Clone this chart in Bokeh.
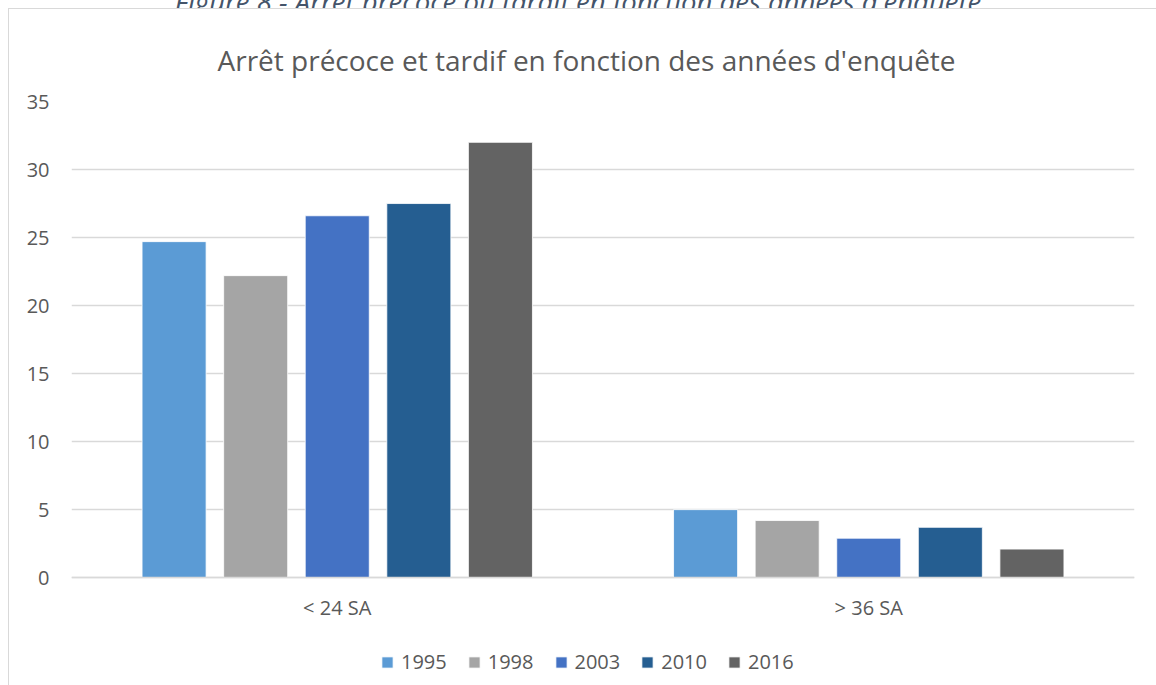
from bokeh.plotting import figure
from bokeh.models import ColumnDataSource, Legend, LegendItem, FixedTicker, Div
from bokeh.layouts import column
from bokeh.transform import dodge
from bokeh.embed import file_html
from bokeh.resources import INLINE

caption = "Figure 8 - Arrêt précoce ou tardif en fonction des années d'enquête"
title = "Arrêt précoce et tardif en fonction des années d'enquête"
categories = ["< 24 SA", "> 36 SA"]
years = ["1995", "1998", "2003", "2010", "2016"]
v1995 = [24.7, 5.0]
v1998 = [22.2, 4.2]
v2003 = [26.6, 2.9]
v2010 = [27.5, 3.7]
v2016 = [32.0, 2.1]
colors = ["#5B9BD5", "#A5A5A5", "#4472C4", "#255E91", "#636363"]
yticks = [0, 5, 10, 15, 20, 25, 30, 35]

src = ColumnDataSource(dict(cat=categories, y1995=v1995, y1998=v1998,
                            y2003=v2003, y2010=v2010, y2016=v2016))

FONT = "Open Sans"
TXT = "#595959"
GRID = "#D9D9D9"

cap = Div(text=(f"<div style=\"margin-top:-31px; width:1156px; text-align:center; "
                f"font-family:'Open Sans'; font-style:italic; font-size:27.5px; line-height:normal; "
                f"color:#44546A; white-space:nowrap;\">{caption}</div>"),
          width=1156, height=8, margin=0, styles={"overflow": "hidden"})

# frame extended below 0 so that the legend can sit inside it
p = figure(frame_width=1062, frame_height=580, x_range=categories, y_range=(-8, 35),
           output_backend="svg", toolbar_location=None,
           min_border_left=62, min_border_right=25, min_border_top=92, min_border_bottom=0,
           margin=(0, 0, 0, 8),
           styles={"border-top": f"1px solid {GRID}", "border-left": f"1px solid {GRID}"})

p.title.text = title
p.title.align = "left"
p.title.offset = 146
p.title.text_font = FONT
p.title.text_font_size = "28px"
p.title.text_font_style = "normal"
p.title.text_color = TXT
p.title.standoff = 46

step = 0.1535
width = 0.1205
offsets = [-2 * step, -step, 0, step, 2 * step]
renderers = []
for yr, col, off in zip(years, colors, offsets):
    r = p.vbar(x=dodge("cat", off, range=p.x_range), top="y" + yr, width=width,
               source=src, fill_color=col, line_color="white", line_width=0.8)
    renderers.append(r)

p.outline_line_color = None
p.x_range.range_padding = 0
p.xgrid.grid_line_color = None
p.ygrid.grid_line_color = GRID
p.ygrid.grid_line_width = 1.3
p.yaxis.ticker = FixedTicker(ticks=yticks)

for ax in (p.xaxis, p.yaxis):
    ax.major_tick_line_color = None
    ax.minor_tick_line_color = None
    ax.major_label_text_font = FONT
    ax.major_label_text_font_size = "20px"
    ax.major_label_text_color = TXT
    ax.major_tick_out = 0
    ax.major_tick_in = 0
p.yaxis.axis_line_color = None
p.xaxis.fixed_location = 0
p.xaxis.axis_line_color = GRID
p.xaxis.axis_line_width = 1.3
p.yaxis.major_label_standoff = 22
p.xaxis.major_label_standoff = 16

legend = Legend(items=[LegendItem(label=yr, renderers=[r]) for yr, r in zip(years, renderers)],
                orientation="horizontal", location=(309, 11),
                label_text_font=FONT, label_text_font_size="20px", label_text_color=TXT,
                glyph_width=14, glyph_height=14, label_standoff=7, spacing=20,
                padding=0, margin=0, border_line_color=None, background_fill_alpha=0)
p.add_layout(legend, "center")

layout = column(cap, p, spacing=0, width=1156, height=685, styles={"overflow": "hidden"})
open("out.html", "w").write(file_html(layout, INLINE))
